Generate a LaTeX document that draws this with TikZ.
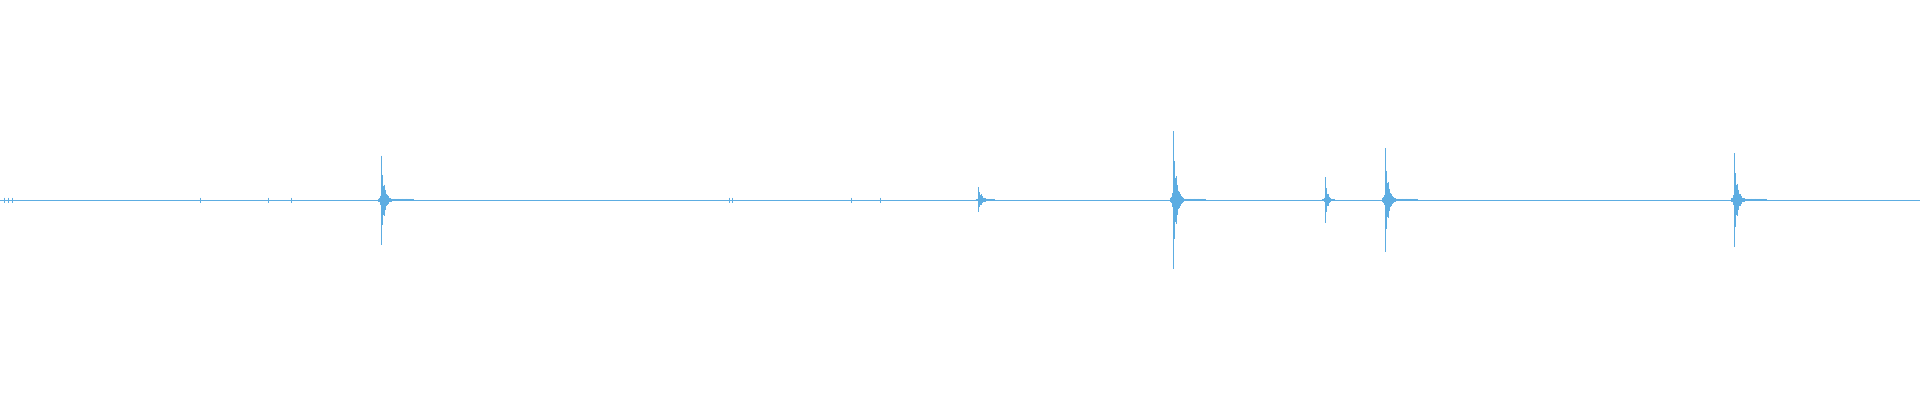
\documentclass[tikz,border=0pt]{standalone}
\definecolor{wave}{HTML}{5DADE2}
\begin{document}
\begin{tikzpicture}[x=1pt,y=-1pt,wv/.style={draw=wave,line width=0.6pt}]
\useasboundingbox (0,0) rectangle (1920,400);
\draw[wv,line width=0.9pt] (0,200) -- (1920,200);
\foreach \xa/\up/\dn/\tau/\n in {381/44.5/45/4/40, 978/13/12/5/20, 1173/69/69/4/40, 1325/23/23/3/12, 1385/52/52/4/40, 1734/47/47/4/40}{
  \foreach \i in {0,...,\n}{
    \pgfmathsetmacro{\f}{exp(-\i/\tau)*(1-0.4*abs(sin(\i*137)))}
    \pgfmathsetmacro{\u}{max(\up*\f,1.2)}
    \pgfmathsetmacro{\d}{max(\dn*\f,1.2)}
    \draw[wv] (\xa+\i*0.8,200-\u) -- (\xa+\i*0.8,200+\d);
  }
  \foreach \i in {1,...,3}{
    \draw[wv] (\xa-\i*0.8,200-\up*0.1/\i) -- (\xa-\i*0.8,200+\dn*0.1/\i);
  }
}
\foreach \xa in {4,8,12,200,268,291,729,732,851,880}{
  \draw[wv,line width=0.8pt] (\xa,197.5) -- (\xa,202.5);
}
\end{tikzpicture}
\end{document}
